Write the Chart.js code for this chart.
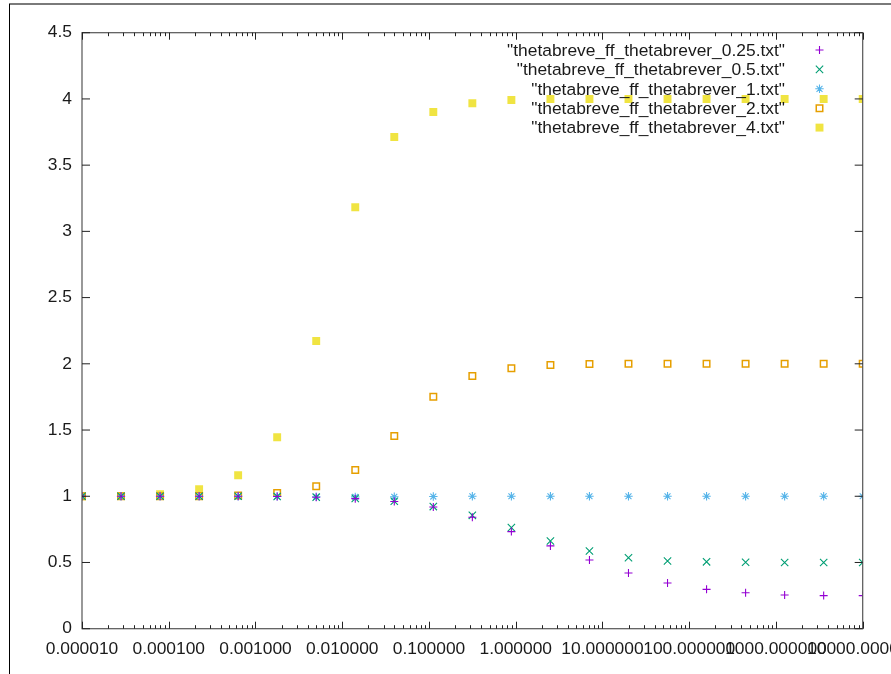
<!DOCTYPE html>
<html>
<head>
<meta charset="utf-8">
<script src="https://cdn.jsdelivr.net/npm/chart.js@4/dist/chart.umd.min.js"></script>
<style>
html,body{margin:0;padding:0;background:#fff;overflow:hidden}
#wrap{position:relative;width:891px;height:674px}
canvas{display:block}
</style>
</head>
<body>
<div id="wrap"><canvas id="c" width="891" height="674"></canvas></div>
<script>
// ---- data ----
const xValues = [0.00001, 0.00002818, 0.00007943, 0.0002239, 0.0006310, 0.001778, 0.005012,
  0.01413, 0.03981, 0.1122, 0.3162, 0.8913, 2.512, 7.079, 19.95, 56.23, 158.5, 446.7, 1259, 3548, 10000];

const theta025 = [1.0, 1.0, 1.0, 1.0, 1.0, 0.998, 0.992, 0.982, 0.960, 0.919, 0.841, 0.733,
  0.625, 0.519, 0.421, 0.345, 0.297, 0.272, 0.254, 0.250, 0.250];
const theta05 = [1.0, 1.0, 1.0, 1.0, 1.0, 0.998, 0.993, 0.984, 0.962, 0.922, 0.856, 0.763,
  0.662, 0.587, 0.536, 0.511, 0.505, 0.502, 0.500, 0.500, 0.500];
const theta1 = [1.0, 1.0, 1.0, 1.0, 1.0, 0.999, 0.996, 0.995, 0.996, 0.998, 1.0, 1.0,
  1.0, 1.0, 1.0, 1.0, 1.0, 1.0, 1.0, 1.0, 1.0];
const theta2 = [1.0, 1.0, 1.0, 1.001, 1.005, 1.025, 1.075, 1.198, 1.455, 1.752, 1.908, 1.966,
  1.991, 1.998, 2.0, 2.0, 2.0, 2.0, 2.0, 2.0, 2.0];
const theta4 = [1.0, 1.001, 1.015, 1.053, 1.158, 1.445, 2.172, 3.182, 3.713, 3.901, 3.967, 3.992,
  3.999, 4.0, 4.0, 4.0, 4.0, 4.0, 4.0, 4.0, 4.0];

const seriesLabels = [
  '"thetabreve_ff_thetabrever_0.25.txt"',
  '"thetabreve_ff_thetabrever_0.5.txt"',
  '"thetabreve_ff_thetabrever_1.txt"',
  '"thetabreve_ff_thetabrever_2.txt"',
  '"thetabreve_ff_thetabrever_4.txt"'
];
const seriesValues = [theta025, theta05, theta1, theta2, theta4];

const xMajorTicks = [0.00001, 0.0001, 0.001, 0.01, 0.1, 1, 10, 100, 1000, 10000];
const yTickStep = 0.5;
const yMinVal = 0, yMaxVal = 4.5;

// ---- styles ----
const FONT = '"Liberation Sans", Arial, sans-serif';
const FONT_SIZE = 17.4;
const TEXT = '#1a1a1a';
const styles = [
  {color: '#9400d3', pointStyle: 'cross', radius: 4, borderWidth: 1.1, fill: false},
  {color: '#009e73', pointStyle: 'crossRot', radius: 5.2, borderWidth: 1.1, fill: false},
  {color: '#56b4e9', pointStyle: 'star', radius: 4.2, borderWidth: 1.1, fill: false},
  {color: '#e69f00', pointStyle: 'rect', radius: 4.6, borderWidth: 1.5, fill: false},
  {color: '#f0e442', pointStyle: 'rect', radius: 5.6, borderWidth: 0, fill: true}
];

const datasets = seriesValues.map((vals, i) => {
  const s = styles[i];
  return {
    label: seriesLabels[i],
    data: xValues.map((x, k) => ({x: x, y: vals[k]})),
    showLine: false,
    pointStyle: s.pointStyle,
    pointRadius: s.radius,
    pointHoverRadius: s.radius,
    pointBorderWidth: s.borderWidth,
    pointBorderColor: s.color,
    pointBackgroundColor: s.fill ? s.color : 'rgba(0,0,0,0)',
    borderColor: s.color,
    backgroundColor: s.fill ? s.color : 'rgba(0,0,0,0)',
    clip: 0
  };
});

const CHART_TOP = 32.7, CHART_BOTTOM = 628.7, CHART_LEFT = 82, CHART_RIGHT = 862.7;

function isMajorX(v) {
  return xMajorTicks.some(m => Math.abs(v / m - 1) < 1e-9);
}

const gnuplotFrame = {
  id: 'gnuplotFrame',
  beforeDraw(chart) {
    const ctx = chart.ctx;
    ctx.save();
    ctx.fillStyle = '#fff';
    ctx.fillRect(0, 0, chart.width, chart.height);
    ctx.restore();
  },
  afterDraw(chart) {
    const ctx = chart.ctx;
    const a = chart.chartArea;
    const xs = chart.scales.x, ys = chart.scales.y;
    ctx.save();
    // outer window frame
    ctx.strokeStyle = '#7a7a7a';
    ctx.lineWidth = 2;
    ctx.beginPath(); ctx.moveTo(9, 4); ctx.lineTo(chart.width, 4); ctx.stroke();
    ctx.strokeStyle = '#000';
    ctx.lineWidth = 1;
    ctx.beginPath(); ctx.moveTo(9.5, 4); ctx.lineTo(9.5, chart.height); ctx.stroke();

    // plot border
    ctx.strokeStyle = '#555';
    ctx.lineWidth = 1.2;
    ctx.strokeRect(a.left, a.top, a.right - a.left, a.bottom - a.top);

    // y ticks (inward, mirrored)
    ctx.strokeStyle = '#222';
    ctx.lineWidth = 1;
    ys.ticks.forEach(t => {
      const p = ys.getPixelForValue(t.value);
      ctx.beginPath();
      ctx.moveTo(a.left, p); ctx.lineTo(a.left + 8, p);
      ctx.moveTo(a.right, p); ctx.lineTo(a.right - 8, p);
      ctx.stroke();
    });
    // x ticks (inward, mirrored, minor shorter)
    xs.ticks.forEach(t => {
      const p = Math.round(xs.getPixelForValue(t.value)) + 0.5;
      const len = isMajorX(t.value) ? 7 : 3.5;
      ctx.beginPath();
      ctx.moveTo(p, a.bottom); ctx.lineTo(p, a.bottom - len);
      ctx.moveTo(p, a.top); ctx.lineTo(p, a.top + len);
      ctx.stroke();
    });

    // legend (gnuplot style: right aligned text, marker on the right)
    const textRight = 785, markX = 819.5, rowTop = 50, rowStep = 19.4;
    ctx.font = FONT_SIZE + 'px ' + FONT;
    ctx.textAlign = 'right';
    ctx.textBaseline = 'middle';
    chart.data.datasets.forEach((ds, i) => {
      const y = rowTop + i * rowStep;
      ctx.fillStyle = TEXT;
      ctx.fillText(ds.label, textRight, y + 1);
      const s = styles[i];
      ctx.strokeStyle = s.color;
      ctx.fillStyle = s.fill ? s.color : 'rgba(0,0,0,0)';
      ctx.lineWidth = s.borderWidth || 1;
      Chart.helpers.drawPoint(ctx, {pointStyle: s.pointStyle, radius: s.radius, rotation: 0, borderWidth: s.borderWidth}, markX, y);
    });
    ctx.restore();
  }
};

new Chart(document.getElementById('c'), {
  type: 'scatter',
  data: {datasets: datasets},
  options: {
    responsive: false,
    animation: false,
    devicePixelRatio: 1,
    events: [],
    layout: {padding: {top: CHART_TOP, right: 891 - CHART_RIGHT, left: 0, bottom: 0}},
    plugins: {legend: {display: false}, tooltip: {enabled: false}},
    scales: {
      x: {
        type: 'logarithmic',
        min: xMajorTicks[0],
        max: xMajorTicks[xMajorTicks.length - 1],
        afterBuildTicks(scale) {
          const ticks = [];
          xMajorTicks.forEach((m, i) => {
            ticks.push({value: m, major: true});
            if (i < xMajorTicks.length - 1) {
              for (let k = 2; k <= 9; k++) ticks.push({value: m * k, major: false});
            }
          });
          scale.ticks = ticks;
        },
        afterFit(scale) {
          scale.height = 674 - CHART_BOTTOM;
          scale.paddingLeft = 0;
          scale.paddingRight = 0;
        },
        grid: {display: false, drawTicks: false},
        border: {display: false},
        ticks: {
          autoSkip: false,
          maxRotation: 0,
          minRotation: 0,
          padding: 10,
          color: TEXT,
          font: {family: FONT, size: FONT_SIZE},
          callback(value) {
            return isMajorX(value) ? Number(value).toFixed(6) : '';
          }
        }
      },
      y: {
        type: 'linear',
        min: yMinVal,
        max: yMaxVal,
        afterFit(scale) {
          scale.width = CHART_LEFT;
          scale.paddingTop = 0;
          scale.paddingBottom = 0;
        },
        grid: {display: false, drawTicks: false},
        border: {display: false},
        ticks: {
          stepSize: yTickStep,
          padding: 10,
          color: TEXT,
          font: {family: FONT, size: FONT_SIZE},
          callback(value) {
            return String(Number(Number(value).toFixed(3)));
          }
        }
      }
    }
  },
  plugins: [gnuplotFrame]
});
</script>
</body>
</html>
